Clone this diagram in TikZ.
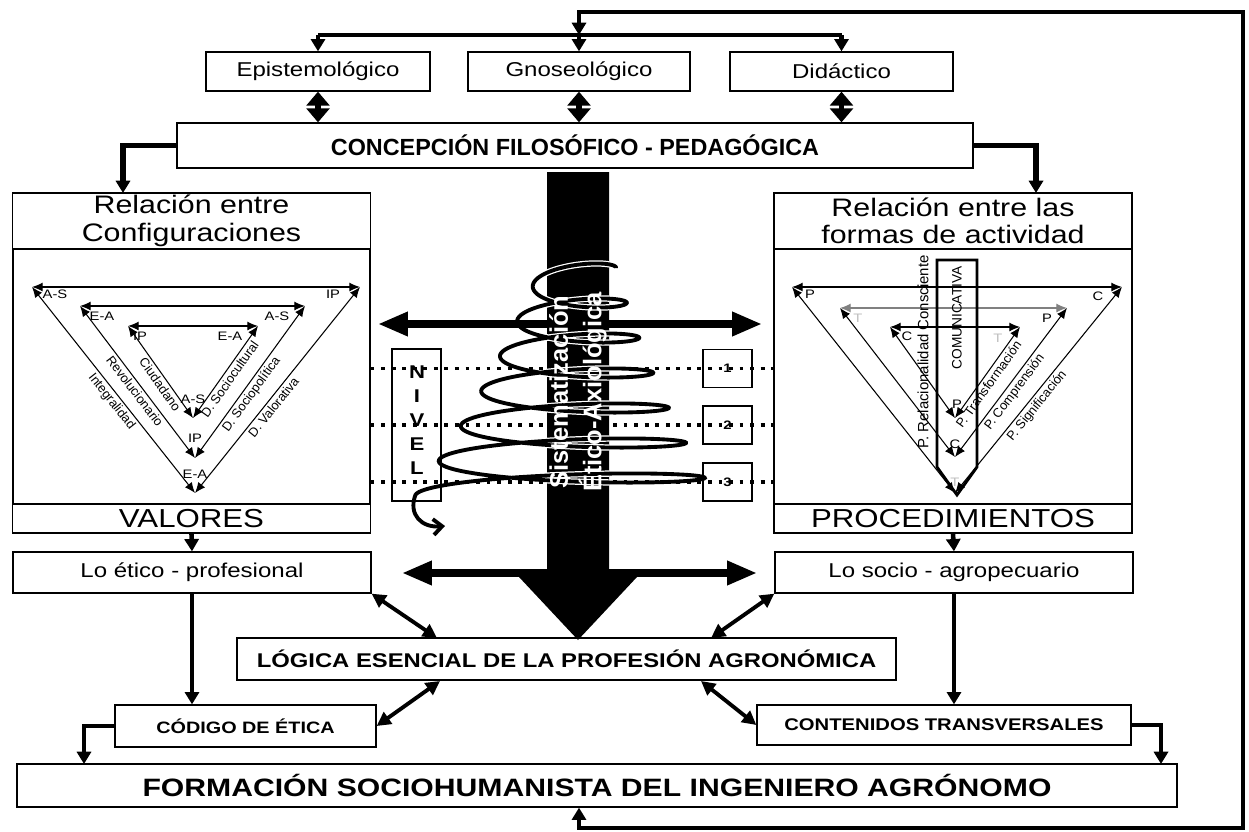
\documentclass[tikz,border=0pt]{standalone}
\usepackage{fontspec}
\setmainfont[FakeStretch=1.2]{Liberation Sans}
\newfontfamily\plainsans{Liberation Sans}
\usetikzlibrary{
    arrows.meta,
    positioning,
    calc
}
\tikzset{%
    >={Triangle[length=7pt,width=8pt]},
    % Specifications for style of nodes:
    box/.style = {
        rectangle, draw=black, line width=0.75pt,
        inner sep=0pt, align=center, fill=white
    },
    top/.style = {box, minimum height=0.78cm, font=\fontsize{11.4}{13}\selectfont},
    mid/.style = {box, minimum width=7.16cm, minimum height=0.82cm, font=\fontsize{11.4}{13}\selectfont},
    head/.style = {box, minimum width=7.16cm, minimum height=1.12cm, font=\fontsize{14.4}{15.6}\selectfont},
    foot/.style = {box, minimum width=7.16cm, minimum height=0.58cm, font=\fontsize{14.8}{16}\selectfont},
    level/.style = {box, fill=none, minimum width=0.98cm, minimum height=0.76cm, font=\bfseries\fontsize{7}{8}\selectfont},
    vtx/.style = {inner sep=0pt, font=\fontsize{7}{7.5}\selectfont},
    lbl/.style = {sloped, below=0.5pt, inner sep=0.8pt, font=\plainsans\fontsize{7.3}{8}\selectfont},
    % Specifications for style of connectors:
    link/.style = {line width=2.6pt, ->},
    dlink/.style = {line width=3pt, {Triangle[length=8pt,width=13pt]}-{Triangle[length=8pt,width=13pt]}},
    slant/.style = {line width=2.2pt, {Triangle[length=8pt,width=8pt]}-{Triangle[length=8pt,width=8pt]}},
    wide/.style = {line width=4pt, {Triangle[length=17pt,width=13pt]}-{Triangle[length=17pt,width=13pt]}},
    tri/.style = {line width=0.6pt, {Latex[length=6pt,width=5pt]}-{Latex[length=6pt,width=5pt]}},
    dots/.style = {line width=2.2pt, dash pattern=on 2.2pt off 3.8pt}
}

\begin{document}
\begin{tikzpicture}[x=0.02cm, y=-0.02cm]
\useasboundingbox (0,0) rectangle (1249,832);

% upper part
\node[top, minimum width=4.48cm] (epis) at (318,71.5) {Epistemológico};
\node[top, minimum width=4.44cm] (gnos) at (579,71.5) {Gnoseológico};
\node[top, minimum width=4.46cm] (dida) at (841.5,71.5) {Didáctico};
\node[box, minimum width=15.92cm, minimum height=0.9cm,
      font=\plainsans\bfseries\fontsize{13.3}{15}\selectfont] (conc) at (575,145.5) {CONCEPCIÓN FILOSÓFICO - PEDAGÓGICA};

% left and right blocks
\node[head] (confHead) at (191.5,221) {Relación entre\\Configuraciones};
\node[box, minimum width=7.14cm, minimum height=5.1cm] (confBody) at (191.5,376.5) {};
\node[foot] (valores) at (191.5,518.5) {VALORES};
\node[head] (actHead) at (953,221) {Relación entre las\\formas de actividad};
\node[box, minimum width=7.16cm, minimum height=5.1cm] (actBody) at (953,376.5) {};
\node[foot] (proc) at (953,518.5) {PROCEDIMIENTOS};

\node[mid] (etico) at (192,572.5) {Lo ético - profesional};
\node[mid] (socio) at (954,572.5) {Lo socio - agropecuario};

% lower part
\node[box, minimum width=13.18cm, minimum height=0.84cm,
      font=\bfseries\fontsize{11.3}{14}\selectfont] (logica) at (566.5,659) {LÓGICA ESENCIAL DE LA PROFESIÓN AGRONÓMICA};
\node[box, minimum width=5.22cm, minimum height=0.84cm,
      font=\bfseries\fontsize{9.4}{11}\selectfont] (codigo) at (245.5,726) {CÓDIGO DE ÉTICA};
\node[box, minimum width=7.48cm, minimum height=0.8cm,
      font=\bfseries\fontsize{9.6}{11}\selectfont] (conten) at (944,725) {CONTENIDOS TRANSVERSALES};
\node[box, minimum width=23.2cm, minimum height=0.86cm,
      font=\bfseries\fontsize{14.3}{16}\selectfont] (form) at (597,785.5) {FORMACIÓN SOCIOHUMANISTA DEL INGENIERO AGRÓNOMO};

% free ends of connectors
\coordinate (busTop) at (579,35);
\coordinate (railTop) at (1243,12);
\coordinate (railBot) at (1243,828);
\coordinate (confIn) at (123,193);
\coordinate (actIn) at (1036,193);
\coordinate (formL) at (84,764);
\coordinate (formR) at (1161,764);
\coordinate (lgA) at (437,638);
\coordinate (lgB) at (711,638);
\coordinate (lgC) at (440,681);
\coordinate (lgD) at (701,681);

% connectors
\draw[link, <->] (busTop |- form.south) -- (busTop |- railBot) -- (railBot)
    -- (railTop) -- (busTop |- railTop) -- (busTop);
\draw[line width=2.6pt] (epis.north |- busTop) -- (dida.north |- busTop);
\draw[link] (epis.north |- busTop) -- (epis.north);
\draw[link] (busTop) -- (gnos.north);
\draw[link] (dida.north |- busTop) -- (dida.north);
\draw[dlink] (epis.south) -- (epis.south |- conc.north);
\draw[dlink] (gnos.south) -- (gnos.south |- conc.north);
\draw[dlink] (dida.south) -- (dida.south |- conc.north);
\draw[link, line width=3pt] (conc.west) -| (confIn);
\draw[link, line width=3pt] (conc.east) -| (actIn);
\draw[link] (valores.south) -- (etico.north);
\draw[link] (proc.south) -- (socio.north);
\draw[link] (etico.south) -- (etico.south |- codigo.north);
\draw[link] (socio.south) -- (socio.south |- conten.north);
\draw[link] (codigo.west) -| (formL);
\draw[link] (conten.east) -| (formR);
\draw[slant] (etico.south east) -- (lgA);
\draw[slant] (socio.south west) -- (lgB);
\draw[slant] (lgC) -- (codigo.east);
\draw[slant] (lgD) -- (conten.west);

% left triangles
\coordinate (cA1) at (32,287);  \coordinate (cB1) at (360,287); \coordinate (cC1) at (195,493);
\coordinate (cA2) at (80,306);  \coordinate (cB2) at (305,306); \coordinate (cC2) at (195,458);
\coordinate (cA3) at (128,326); \coordinate (cB3) at (258,326); \coordinate (cC3) at (193,418);
\draw[tri] (cA1) -- (cB1);
\draw[tri] (cA1) -- node[lbl, pos=0.53] {Integralidad} (cC1);
\draw[tri] (cC1) -- node[lbl, pos=0.44] {D. Valorativa} (cB1);
\draw[tri] (cA2) -- (cB2);
\draw[tri] (cA2) -- node[lbl, pos=0.53] {Revolucionario} (cC2);
\draw[tri] (cC2) -- node[lbl, pos=0.45] {D. Sociopolítica} (cB2);
\draw[tri] (cA3) -- (cB3);
\draw[tri] (cA3) -- node[lbl, pos=0.59] {Ciudadano} (cC3);
\draw[tri] (cC3) -- node[lbl, pos=0.47] {D. Sociocultural} (cB3);
\node[vtx] at (55,294) {A-S};  \node[vtx] at (333,294) {IP};  \node[vtx] at (195,474) {E-A};
\node[vtx] at (102,316) {E-A}; \node[vtx] at (277,316) {A-S}; \node[vtx] at (195,438) {IP};
\node[vtx] at (140,336) {IP};  \node[vtx] at (230,336) {E-A}; \node[vtx] at (193,399) {A-S};

% right triangles
\coordinate (pA1) at (792,287); \coordinate (pB1) at (1122,287); \coordinate (pC1) at (955,493);
\coordinate (pA2) at (840,308); \coordinate (pB2) at (1067,308); \coordinate (pC2) at (955,457);
\coordinate (pA3) at (890,327); \coordinate (pB3) at (1020,327); \coordinate (pC3) at (955,418);
\draw[tri] (pA1) -- (pB1);
\draw[tri] (pA1) -- (pC1);
\draw[tri] (pC1) -- node[lbl, pos=0.45] {P. Significación} (pB1);
\draw[tri, gray] (pA2) -- (pB2);
\draw[tri] (pA2) -- (pC2);
\draw[tri] (pC2) -- node[lbl, pos=0.47] {P. Comprensión} (pB2);
\draw[tri] (pA3) -- (pB3);
\draw[tri] (pA3) -- (pC3);
\draw[tri] (pC3) -- node[lbl, pos=0.42] {P. Transformación} (pB3);
\node[vtx] at (810,294) {P};  \node[vtx] at (1098,296) {C}; \node[vtx, gray!50] at (955,482) {T};
\node[vtx, gray!50] at (858,318) {T}; \node[vtx] at (1047,318) {P}; \node[vtx] at (955,444) {C};
\node[vtx] at (907,336) {C};  \node[vtx, gray!50] at (998,338) {T}; \node[vtx] at (957,404) {P};
\draw[line width=1.6pt] (937,260) -- (977,260) -- (977,467) -- (957,495) -- (937,467) -- cycle;
\node[rotate=90, font=\plainsans\fontsize{7.8}{9}\selectfont] (comu) at (957,318) {COMUNICATIVA};
\node[rotate=90, font=\plainsans\fontsize{8.5}{9}\selectfont] (relc) at (923,352) {P. Relacionalidad Consciente};

% levels
\node[level] (lv1) at (727.5,368.5) {1};
\node[level] (lv2) at (727.5,425) {2};
\node[level] (lv3) at (727.5,482) {3};
\draw[dots] (confBody.east |- lv1) -- (actBody.west |- lv1);
\draw[dots] (confBody.east |- lv2) -- (actBody.west |- lv2);
\draw[dots] (confBody.east |- lv3) -- (actBody.west |- lv3);
\node[box, fill=none, minimum width=0.98cm, minimum height=3.04cm] (nivel) at (416.5,425) {};
\node[font=\bfseries\fontsize{10.5}{13.6}\selectfont, align=center] (nivTxt) at (417,420) {N\\I\\V\\E\\L};

\coordinate (wideL) at (378,324);
\coordinate (wideR) at (762,324);
\coordinate (wideL2) at (402,573);
\coordinate (wideR2) at (757,573);
\draw[wide] (wideL) -- (wideR);
\draw[wide] (wideL2) -- (wideR2);

% big arrow and spiral
\fill (547,172) -- (609,172) -- (609,577) -- (637,577) -- (578,640) -- (519,577) -- (547,577) -- cycle;
\begin{scope}
    \clip (547,172) rectangle (609,577);
    \draw[white, line width=3.6pt] plot[domain=0:6.5, samples=500, smooth, variable=\u]
        ({578-2*\u+(38+12*\u+0.8*\u*\u)*cos(360*\u)}, {268+35*\u-12*sin(360*\u)});
\end{scope}
\draw[line width=2.2pt, -{Straight Barb[length=5pt,width=9pt]}] plot[domain=0:6.5, samples=500, smooth, variable=\u]
    ({578-2*\u+(38+12*\u+0.8*\u*\u)*cos(360*\u)}, {268+35*\u-12*sin(360*\u)})
    .. controls (408,515) and (422,528) .. (445,526);
\node[rotate=90, text=white, align=center, font=\plainsans\bfseries\fontsize{14.5}{19}\selectfont] (sist) at (578,392) {Sistematización\\Ético-Axiológica};
\end{tikzpicture}
\end{document}
